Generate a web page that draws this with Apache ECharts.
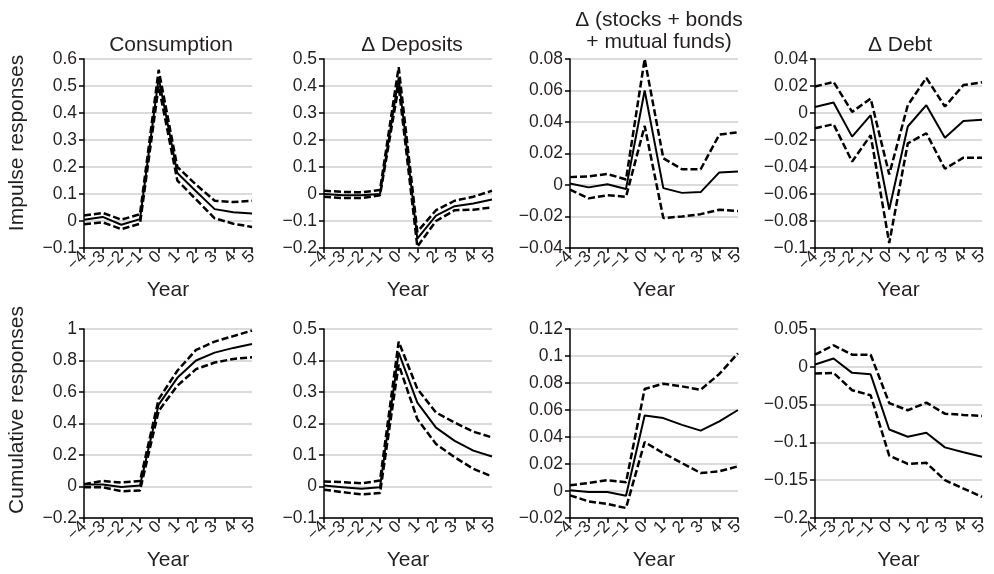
<!DOCTYPE html>
<html><head><meta charset="utf-8">
<script src="https://cdn.jsdelivr.net/npm/echarts@6/dist/echarts.min.js"></script>
<style>html,body{margin:0;padding:0;background:#fff}#c{width:994px;height:574px}</style>
</head><body><div id="c"></div>
<script>
// ---- categories ----
const years = ['−4','−3','−2','−1','0','1','2','3','4','5'];
// ---- titles / names ----
const panelTitles = ['Consumption', 'Δ Deposits', 'Δ (stocks + bonds\n+ mutual funds)', 'Δ Debt'];
const rowNames = ['Impulse responses', 'Cumulative responses'];
const xName = 'Year';

// ---- Row 1: impulse responses ----
const consImpMid = [0.005, 0.015, -0.014, 0.007, 0.53, 0.178, 0.11, 0.044, 0.032, 0.028];
const consImpHi  = [0.02, 0.03, 0.005, 0.025, 0.56, 0.20, 0.135, 0.075, 0.07, 0.075];
const consImpLo  = [-0.012, -0.005, -0.03, -0.01, 0.50, 0.15, 0.08, 0.01, -0.01, -0.022];

const depImpMid = [0.0, -0.005, -0.005, 0.0, 0.43, -0.165, -0.08, -0.045, -0.035, -0.02];
const depImpHi  = [0.012, 0.008, 0.006, 0.015, 0.47, -0.14, -0.06, -0.025, -0.01, 0.012];
const depImpLo  = [-0.01, -0.015, -0.015, -0.005, 0.40, -0.195, -0.10, -0.06, -0.058, -0.05];

const stkImpMid = [0.001, -0.0015, 0.0005, -0.0025, 0.06, -0.002, -0.005, -0.0045, 0.008, 0.0085];
const stkImpHi  = [0.005, 0.0055, 0.007, 0.0035, 0.08, 0.017, 0.01, 0.01, 0.032, 0.0335];
const stkImpLo  = [-0.003, -0.0085, -0.0065, -0.0075, 0.0375, -0.021, -0.020, -0.0185, -0.0157, -0.0165];

const debtImpMid = [0.0045, 0.0078, -0.0175, -0.0016, -0.0715, -0.01, 0.0058, -0.0183, -0.006, -0.005];
const debtImpHi  = [0.0196, 0.023, 0.0008, 0.0107, -0.0455, 0.0058, 0.026, 0.0048, 0.0207, 0.0227];
const debtImpLo  = [-0.0113, -0.0083, -0.036, -0.0165, -0.0963, -0.0225, -0.015, -0.0413, -0.0331, -0.0331];

// ---- Row 2: cumulative responses ----
const consCumMid = [0.012, 0.012, -0.003, 0.006, 0.52, 0.69, 0.80, 0.85, 0.88, 0.905];
const consCumHi  = [0.015, 0.035, 0.025, 0.035, 0.555, 0.735, 0.867, 0.92, 0.955, 0.99];
const consCumLo  = [-0.005, -0.005, -0.03, -0.025, 0.48, 0.64, 0.745, 0.787, 0.81, 0.82];

const depCumMid = [0.003, -0.002, -0.007, -0.002, 0.425, 0.266, 0.187, 0.145, 0.114, 0.095];
const depCumHi  = [0.016, 0.014, 0.01, 0.019, 0.46, 0.31, 0.235, 0.203, 0.174, 0.156];
const depCumLo  = [-0.01, -0.018, -0.025, -0.021, 0.387, 0.214, 0.135, 0.093, 0.056, 0.032];

const stkCumMid = [0.0005, -0.0008, -0.0008, -0.0035, 0.056, 0.054, 0.049, 0.0447, 0.0516, 0.060];
const stkCumHi  = [0.0042, 0.006, 0.008, 0.0064, 0.0756, 0.0795, 0.0775, 0.075, 0.0867, 0.102];
const stkCumLo  = [-0.0032, -0.0077, -0.0096, -0.0126, 0.0363, 0.028, 0.0207, 0.0133, 0.0146, 0.0183];

const debtCumMid = [0.003, 0.011, -0.008, -0.01, -0.083, -0.0925, -0.0873, -0.1066, -0.113, -0.119];
const debtCumHi  = [0.016, 0.0285, 0.016, 0.016, -0.048, -0.0575, -0.0474, -0.062, -0.0636, -0.065];
const debtCumLo  = [-0.009, -0.008, -0.031, -0.0377, -0.1175, -0.1285, -0.127, -0.150, -0.161, -0.172];

// ---- y axis ranges ----
const yMins = [-0.1, -0.2, -0.04, -0.1, -0.2, -0.1, -0.02, -0.2];
const yMaxs = [0.6, 0.5, 0.08, 0.04, 1, 0.5, 0.12, 0.05];
const yIntervals = [0.1, 0.1, 0.02, 0.02, 0.2, 0.1, 0.02, 0.05];

const panels = [
  [consImpMid, consImpHi, consImpLo], [depImpMid, depImpHi, depImpLo],
  [stkImpMid, stkImpHi, stkImpLo], [debtImpMid, debtImpHi, debtImpLo],
  [consCumMid, consCumHi, consCumLo], [depCumMid, depCumHi, depCumLo],
  [stkCumMid, stkCumHi, stkCumLo], [debtCumMid, debtCumHi, debtCumLo]
];

// layout
const gridLefts = [84, 324, 570, 815];
const gridWidths = [168, 168, 168, 167];
const gridTops = [59, 329];
const gridHeight = 189;

const FONT = 'Liberation Sans, Arial, Helvetica, sans-serif';
const TXT = '#231f20';

const grid = [], xAxis = [], yAxis = [], series = [];
for (let i = 0; i < 8; i++) {
  const r = Math.floor(i / 4), c = i % 4;
  grid.push({ left: gridLefts[c], top: gridTops[r], width: gridWidths[c], height: gridHeight });
  xAxis.push({
    type: 'category', gridIndex: i, data: years, boundaryGap: false,
    name: xName, nameLocation: 'middle', nameGap: 32,
    nameTextStyle: { fontFamily: FONT, fontSize: 21, color: TXT },
    axisLine: { onZero: false, lineStyle: { color: '#000', width: 1.5 } },
    axisTick: { show: true, alignWithLabel: true, interval: 0, length: 5, lineStyle: { color: '#000', width: 1.5 } },
    axisLabel: { interval: 0, rotate: 45, margin: 6, fontFamily: FONT, fontSize: 17, color: TXT },
    splitLine: { show: false }
  });
  yAxis.push({
    type: 'value', gridIndex: i, min: yMins[i], max: yMaxs[i], interval: yIntervals[i],
    axisLine: { show: true, lineStyle: { color: '#000', width: 1.5 } },
    axisTick: { show: true, length: 5, lineStyle: { color: '#000', width: 1.5 } },
    axisLabel: {
      margin: 7, fontFamily: FONT, fontSize: 17.5, color: TXT,
      formatter: v => String(Math.round(v * 10000) / 10000).replace('-', '−')
    },
    splitLine: { show: true, lineStyle: { color: '#cfcfcf', width: 1.5 } }
  });
  const [mid, hi, lo] = panels[i];
  series.push({ type: 'line', xAxisIndex: i, yAxisIndex: i, data: mid, symbol: 'none',
    lineStyle: { color: '#000', width: 2 }, z: 3 });
  series.push({ type: 'line', xAxisIndex: i, yAxisIndex: i, data: hi, symbol: 'none',
    lineStyle: { color: '#000', width: 2.5, type: [7, 3] }, z: 2 });
  series.push({ type: 'line', xAxisIndex: i, yAxisIndex: i, data: lo, symbol: 'none',
    lineStyle: { color: '#000', width: 2.5, type: [7, 3] }, z: 2 });
}

const titleCenters = [166, 407, 654, 895];
const title = panelTitles.map((t, c) => ({
  text: t, left: titleCenters[c], top: c === 2 ? 4 : 29, textAlign: 'center',
  textStyle: { fontFamily: FONT, fontSize: 21, fontWeight: 'normal', color: TXT, lineHeight: 22 }
}));

const graphic = rowNames.map((t, r) => ({
  type: 'text', x: 17, y: r === 0 ? 143 : 410, rotation: Math.PI / 2,
  style: { text: t, fontFamily: FONT, fontSize: 21, fill: TXT, align: 'center', verticalAlign: 'middle' }
}));

const chart = echarts.init(document.getElementById('c'), null, { renderer: 'canvas' });
chart.setOption({
  animation: false, backgroundColor: '#fff',
  title, grid, xAxis, yAxis, series, graphic
});
</script>
</body></html>
